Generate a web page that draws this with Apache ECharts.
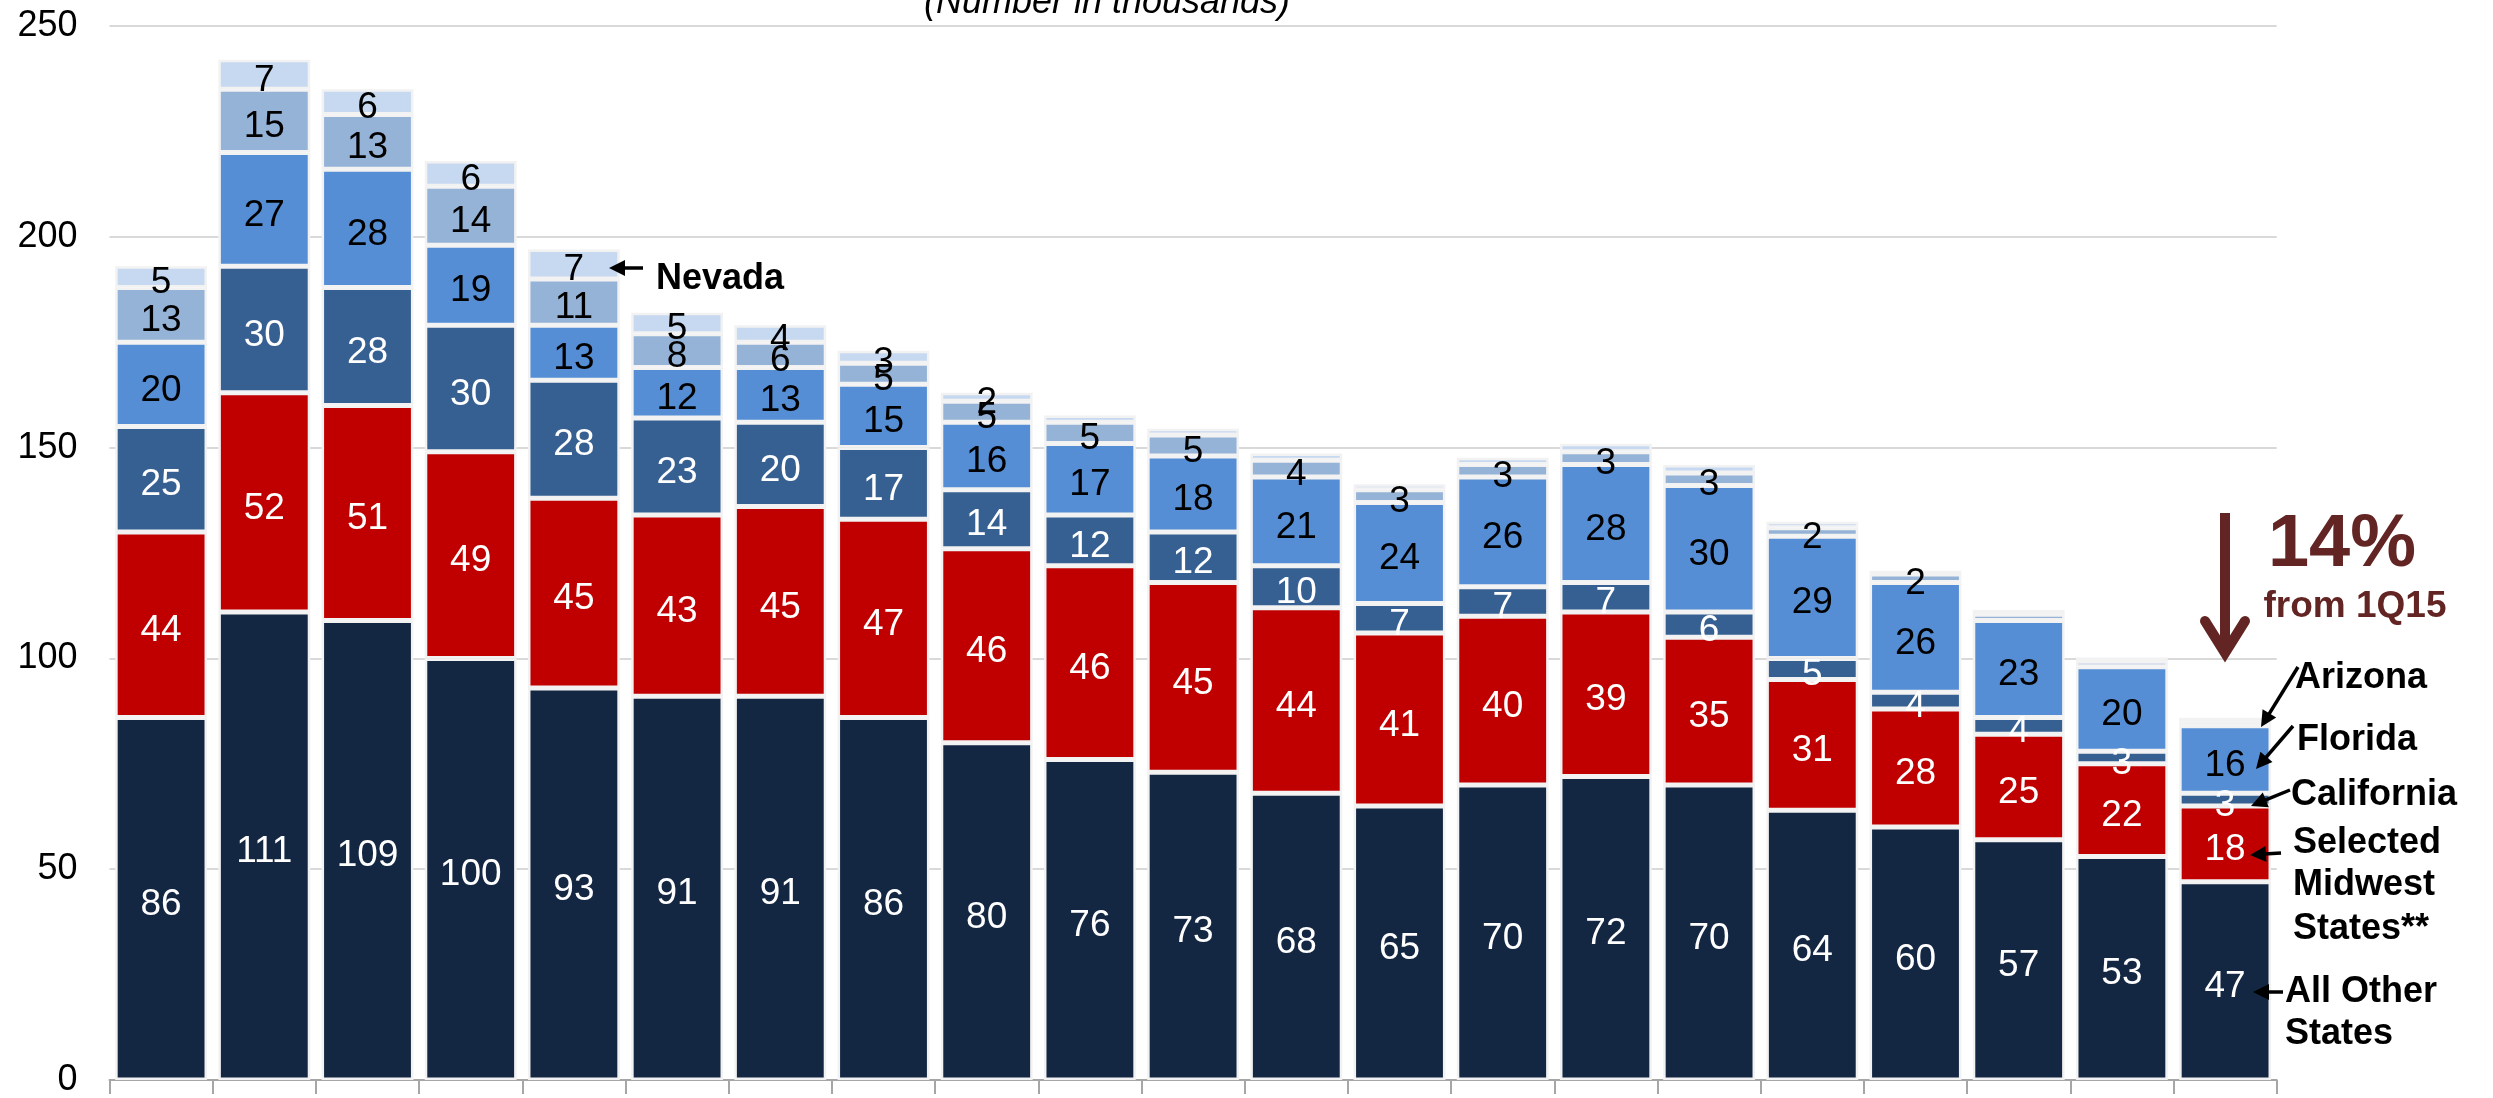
<!DOCTYPE html>
<html><head><meta charset="utf-8">
<script src="https://cdn.jsdelivr.net/npm/echarts@6/dist/echarts.min.js"></script>
<style>html,body{margin:0;padding:0;background:#fff;overflow:hidden}#c{width:2493px;height:1098px}</style>
</head><body><div id="c"></div>
<script>
const categories = ['P1','P2','P3','P4','P5','P6','P7','P8','P9','P10','P11','P12','P13','P14','P15','P16','P17','P18','P19','P20','P21'];
const allOther   = [86,111,109,100,93,91,91,86,80,76,73,68,65,70,72,70,64,60,57,53,47];
const midwest    = [44,52,51,49,45,43,45,47,46,46,45,44,41,40,39,35,31,28,25,22,18];
const california = [25,30,28,30,28,23,20,17,14,12,12,10,7,7,7,6,5,4,4,3,3];
const florida    = [20,27,28,19,13,12,13,15,16,17,18,21,24,26,28,30,29,26,23,20,16];
const arizona    = [13,15,13,14,11,8,6,5,5,5,5,4,3,3,3,3,2,2,1.5,1.3,1.1];
const nevada     = [5,7,6,6,7,5,4,3,2,1.6,1.5,1.6,1.3,1.6,1.9,1.9,1.4,0.8,1.0,0.9,0.8];
const seriesNames = ['All Other States','Selected Midwest States**','California','Florida','Arizona','Nevada'];
const yMin = 0, yMax = 250, yStep = 50;

const FONT = '"Liberation Sans", Arial, sans-serif';
const colors = ['#132642','#c00000','#376092','#558ed5','#95b3d7','#c6d9f1'];
const labelColors = ['#fff','#fff','#fff','#000','#000','#000'];
const dataSets = [allOther, midwest, california, florida, arizona, nevada];

const chart = echarts.init(document.getElementById('c'), null, {renderer:'canvas'});

function arrow(x1,y1,x2,y2,color,w,hl,hw){
  const dx=x2-x1, dy=y2-y1, L=Math.hypot(dx,dy), ux=dx/L, uy=dy/L;
  const bx=x2-ux*hl, by=y2-uy*hl, px=-uy, py=ux;
  return [
    {type:'line', z:100, shape:{x1:x1,y1:y1,x2:bx+ux*2,y2:by+uy*2}, style:{stroke:color,lineWidth:w}},
    {type:'polygon', z:100, shape:{points:[[x2,y2],[bx+px*hw,by+py*hw],[bx-px*hw,by-py*hw]]}, style:{fill:color}}
  ];
}
const TY = 5;
function txt(x,y,s,size,opts){
  return {type:'text', z:100, x:x, y:y+TY, style:Object.assign({text:s, font:'bold '+size+'px '+FONT, fill:'#000', align:'left', verticalAlign:'middle'}, opts||{})};
}
const maroon = '#632523';
const graphics = [].concat(
  [{type:'text', z:100, x:1107, y:3, style:{text:'(Number in thousands)', font:'italic 36px '+FONT, fill:'#000', align:'center', verticalAlign:'middle'}}],
  [txt(656,274,'Nevada',36)], arrow(643,268,609,268,'#000',3.5,16,8),
  [txt(2295,673,'Arizona',36)], arrow(2298,667,2261,727,'#000',3.5,16,8),
  [txt(2297,735,'Florida',36)], arrow(2293,726,2256,769,'#000',3.5,16,8),
  [txt(2291,790,'California',36)], arrow(2290,790,2251,806,'#000',3.5,16,8),
  [txt(2293,838,'Selected',36), txt(2293,880,'Midwest',36), txt(2293,924,'States**',36)], arrow(2281,853,2250,855,'#000',3.5,16,8),
  [txt(2285,987,'All Other',36), txt(2285,1029,'States',36)], arrow(2283,992,2253,992,'#000',3.5,16,8),
  [txt(2342,541,'14%',74,{fill:maroon, align:'center'}), txt(2355,602,'from 1Q15',37,{fill:maroon, align:'center'})],
  [{type:'line', z:100, shape:{x1:2225,y1:513,x2:2225,y2:650}, style:{stroke:maroon,lineWidth:10}},
   {type:'polyline', z:100, shape:{points:[[2205,621],[2225,653],[2245,621]]}, style:{stroke:maroon,lineWidth:10,lineJoin:'miter',lineCap:'round',fill:null}}]
);

chart.setOption({
  animation:false,
  backgroundColor:'#fff',
  grid:{left:109.5, right:216.3, top:26, bottom:11, containLabel:false},
  xAxis:{type:'category', data:categories,
    axisLine:{show:true, lineStyle:{color:'#a6a6a6', width:2}},
    axisTick:{show:true, alignWithLabel:false, length:14, lineStyle:{color:'#a6a6a6', width:2}},
    axisLabel:{show:false}, splitLine:{show:false}},
  yAxis:{type:'value', min:yMin, max:yMax, interval:yStep,
    axisLine:{show:false}, axisTick:{show:false},
    axisLabel:{color:'#000', fontSize:36, fontFamily:FONT, margin:32},
    splitLine:{show:true, lineStyle:{color:'#d9d9d9', width:2}}},
  series: dataSets.map((d,i)=>({
    name:seriesNames[i], type:'bar', stack:'total', data:d,
    barCategoryGap:'11%',
    itemStyle:{color:colors[i], borderColor:'#f2f2f2', borderWidth:2.5},
    label:{show:true, position:'inside', offset:[0,6], color:labelColors[i], fontSize:37, fontFamily:FONT,
      formatter:p=>p.value>=2?String(Math.round(p.value)):''}
  })),
  graphic:graphics
});
</script></body></html>
